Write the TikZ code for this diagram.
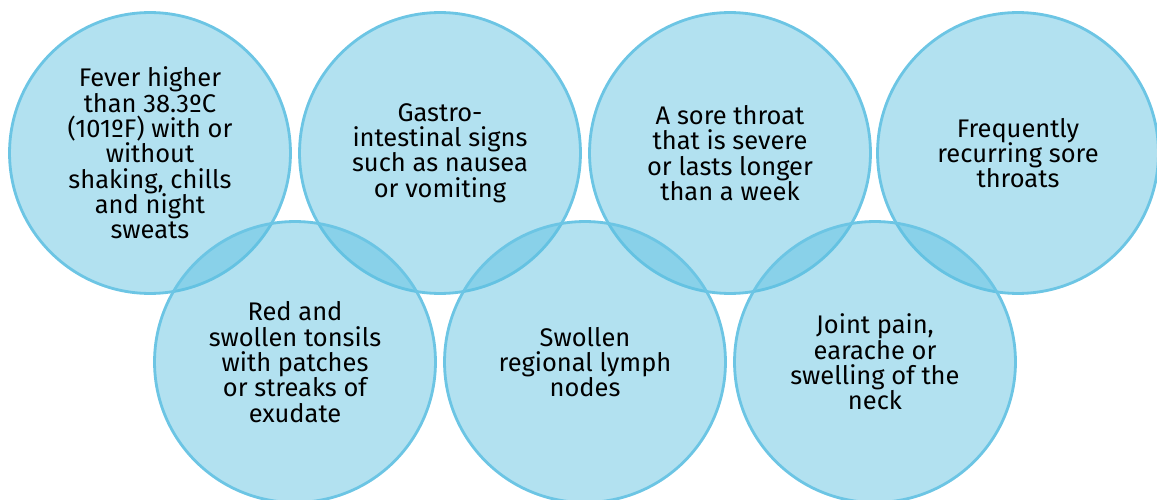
\documentclass[tikz,border=0pt]{standalone}
\usepackage{fontspec}
\setmainfont{Fira Sans}
\usepackage{xcolor}
\usetikzlibrary{positioning}
\definecolor{bubblefill}{HTML}{5BBFE0}
\definecolor{bubbleline}{HTML}{6CC5E4}

\begin{document}
\begin{tikzpicture}[
      x=0.02cm, y=-0.02cm,
      every node/.style={circle, draw=bubbleline, line width=1.6pt, minimum size=5.62cm,
        fill=bubblefill, fill opacity=0.47, text opacity=1, align=center,
        font=\fontsize{14.5}{14.4}\selectfont, inner sep=0pt}
    ]
      \useasboundingbox (0,0) rectangle (1157,500);
      \node (fever) at (150,153) {Fever higher\\than 38.3ºC\\(101ºF) with or\\without\\shaking, chills\\and night\\sweats};
      \node (gastro) at (440,153) {Gastro-\\intestinal signs\\such as nausea\\or vomiting};
      \node (sore) at (730,153) {A sore throat\\that is severe\\or lasts longer\\than a week};
      \node (recur) at (1018,153) {Frequently\\recurring sore\\throats};
      \node (tonsil) at (295,362) {Red and\\swollen tonsils\\with patches\\or streaks of\\exudate};
      \node (lymph) at (585,362) {Swollen\\regional lymph\\nodes};
      \node (joint) at (875,362) {Joint pain,\\earache or\\swelling of the\\neck};
    \end{tikzpicture}
\end{document}
